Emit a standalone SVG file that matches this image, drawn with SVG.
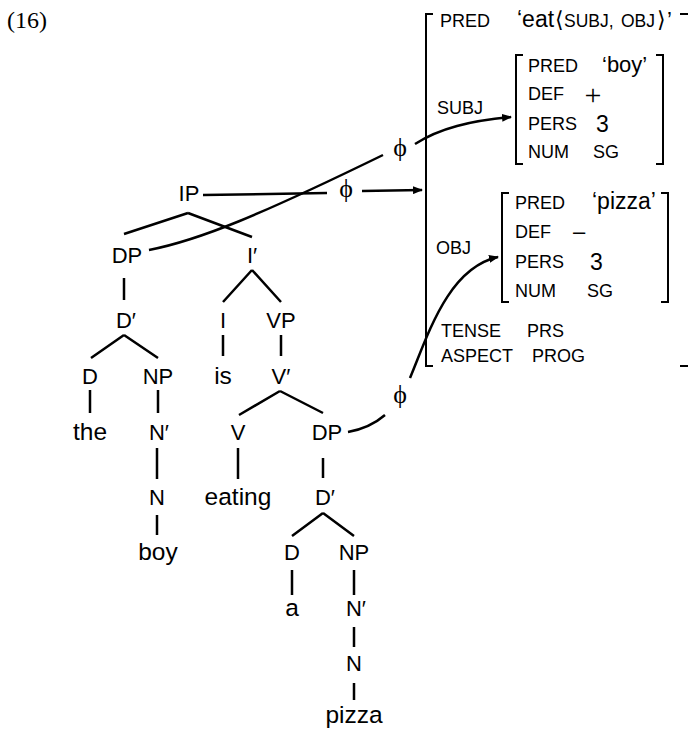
<svg xmlns="http://www.w3.org/2000/svg" width="688" height="730" viewBox="0 0 688 730">
<style>
.t{font-family:"Liberation Sans",Arial,sans-serif;font-size:22px;fill:#000;text-anchor:middle}
.w{font-family:"Liberation Sans",Arial,sans-serif;font-size:24.5px;fill:#000;text-anchor:middle}
.f{font-family:"Liberation Sans",Arial,sans-serif;font-size:18px;fill:#000}
.v{font-family:"Liberation Sans",Arial,sans-serif;font-size:22px;fill:#000}
.p{font-family:"Liberation Serif","DejaVu Serif",serif;font-size:26px;fill:#000;text-anchor:middle}
.e{stroke:#000;stroke-width:2.5;fill:none}
.b{stroke:#000;stroke-width:2;fill:none}
.c{stroke:#000;stroke-width:2.5;fill:none}
</style>
<defs>
<marker id="ah" markerUnits="userSpaceOnUse" markerWidth="10" markerHeight="8" refX="9" refY="4" orient="auto">
<path d="M0,0 L10,4 L0,8 z" fill="#000"/>
</marker>
</defs>
<text x="7" y="28" style="font-family:'Liberation Serif','DejaVu Serif',serif;font-size:24px">(16)</text>

<g id="tree-edges">
<path class="e" d="M188,213 L124,234 M188,213 L252,237"/>
<path class="e" d="M124,278 L124,300"/>
<path class="e" d="M252,270 L223,302 M252,270 L281,302"/>
<path class="e" d="M124,335 L91,358 M124,335 L158,358"/>
<path class="e" d="M223,335 L223,356 M281,335 L281,356"/>
<path class="e" d="M90,390 L90,413 M158,390 L158,413"/>
<path class="e" d="M280,391 L239,415 M280,391 L323,413"/>
<path class="e" d="M157,448 L157,479 M238,448 L238,479 M323,458 L323,478"/>
<path class="e" d="M157,515 L157,535"/>
<path class="e" d="M323,513 L292,536 M323,513 L354,536"/>
<path class="e" d="M292,570 L292,595 M354,570 L354,595"/>
<path class="e" d="M354,627 L354,647 M354,683 L354,700"/>
</g>

<g id="tree-nodes">
<g id="n-IP"><text class="t" x="189" y="201">IP</text></g>
<g id="n-DP1"><text class="t" x="127" y="263">DP</text></g>
<g id="n-Ibar"><text class="t" x="252" y="263">I′</text></g>
<g id="n-Dbar1"><text class="t" x="126" y="328">D′</text></g>
<g id="n-I"><text class="t" x="223" y="328">I</text></g>
<g id="n-VP"><text class="t" x="281" y="328">VP</text></g>
<g id="n-D1"><text class="t" x="90" y="384">D</text></g>
<g id="n-NP1"><text class="t" x="158" y="384">NP</text></g>
<g id="n-is"><text class="w" x="223" y="384">is</text></g>
<g id="n-Vbar"><text class="t" x="281" y="384">V′</text></g>
<g id="n-the"><text class="w" x="90" y="440">the</text></g>
<g id="n-Nbar1"><text class="t" x="159" y="440">N′</text></g>
<g id="n-V"><text class="t" x="238" y="440">V</text></g>
<g id="n-DP2"><text class="t" x="327" y="440">DP</text></g>
<g id="n-N1"><text class="t" x="157" y="505">N</text></g>
<g id="n-eating"><text class="w" x="238" y="505">eating</text></g>
<g id="n-Dbar2"><text class="t" x="325" y="505">D′</text></g>
<g id="n-boy"><text class="w" x="158" y="560">boy</text></g>
<g id="n-D2"><text class="t" x="292" y="560">D</text></g>
<g id="n-NP2"><text class="t" x="354" y="560">NP</text></g>
<g id="n-a"><text class="w" x="292" y="616">a</text></g>
<g id="n-Nbar2"><text class="t" x="356" y="616">N′</text></g>
<g id="n-N2"><text class="t" x="354" y="671">N</text></g>
<g id="n-pizza"><text class="w" x="354" y="723">pizza</text></g>
</g>

<g id="fstructure">
<g id="outer">
<path class="b" d="M433,14 L426,14 L426,366 L433,366"/>
<path class="b" d="M680,14 L692,14 M680,366 L692,366"/>
<text class="f" x="440" y="27">PRED</text>
<text class="v" y="27"><tspan x="517" style="font-size:23px">‘eat</tspan><tspan x="555">⟨</tspan><tspan x="564" style="font-size:17.5px">SUBJ,</tspan><tspan x="621" style="font-size:17.5px">OBJ</tspan><tspan x="657">⟩</tspan><tspan x="667">’</tspan></text>
<text class="f" x="437" y="114">SUBJ</text>
<text class="f" x="436" y="254">OBJ</text>
<text class="f" x="441" y="337">TENSE</text>
<text class="f" x="527" y="337">PRS</text>
<text class="f" x="441" y="362">ASPECT</text>
<text class="f" x="532" y="362">PROG</text>
</g>
<g id="subj">
<path class="b" d="M523,55 L516,55 L516,164 L523,164"/>
<path class="b" d="M656,55 L663,55 L663,164 L656,164"/>
<text class="f" x="528" y="72">PRED</text>
<text class="v" x="602" y="72">‘boy’</text>
<text class="f" x="528" y="100">DEF</text>
<text x="593" y="105" style="font-family:'Liberation Serif',serif;font-size:30px;text-anchor:middle">+</text>
<text class="f" x="528" y="130">PERS</text>
<text class="v" x="596" y="132" style="font-size:23px">3</text>
<text class="f" x="528" y="158">NUM</text>
<text class="f" x="593" y="158">SG</text>
</g>
<g id="obj">
<path class="b" d="M509,193 L502,193 L502,302 L509,302"/>
<path class="b" d="M661,193 L668,193 L668,302 L661,302"/>
<text class="f" x="515" y="209">PRED</text>
<text class="v" x="592" y="209" style="font-size:23px">‘pizza’</text>
<text class="f" x="515" y="238">DEF</text>
<text class="v" x="573" y="239">–</text>
<text class="f" x="515" y="268">PERS</text>
<text class="v" x="590" y="270" style="font-size:23px">3</text>
<text class="f" x="515" y="297">NUM</text>
<text class="f" x="587" y="297">SG</text>
</g>
</g>

<g id="connectors">
<path class="c" d="M149,250 C200,240 260,215 383,155"/>
<path class="c" d="M415,144 C440,128 470,121 511,117" marker-end="url(#ah)"/>
<path class="c" d="M203,195 L327,193"/>
<path class="c" d="M362,191 L422,190" marker-end="url(#ah)"/>
<path class="c" d="M348,432 Q370,428 385,415"/>
<path class="c" d="M410,378 C428,335 448,268 498,257" marker-end="url(#ah)"/>
<text class="p" x="400" y="156">ϕ</text>
<text class="p" x="346" y="197">ϕ</text>
<text class="p" x="400" y="403">ϕ</text>
</g>
</svg>
